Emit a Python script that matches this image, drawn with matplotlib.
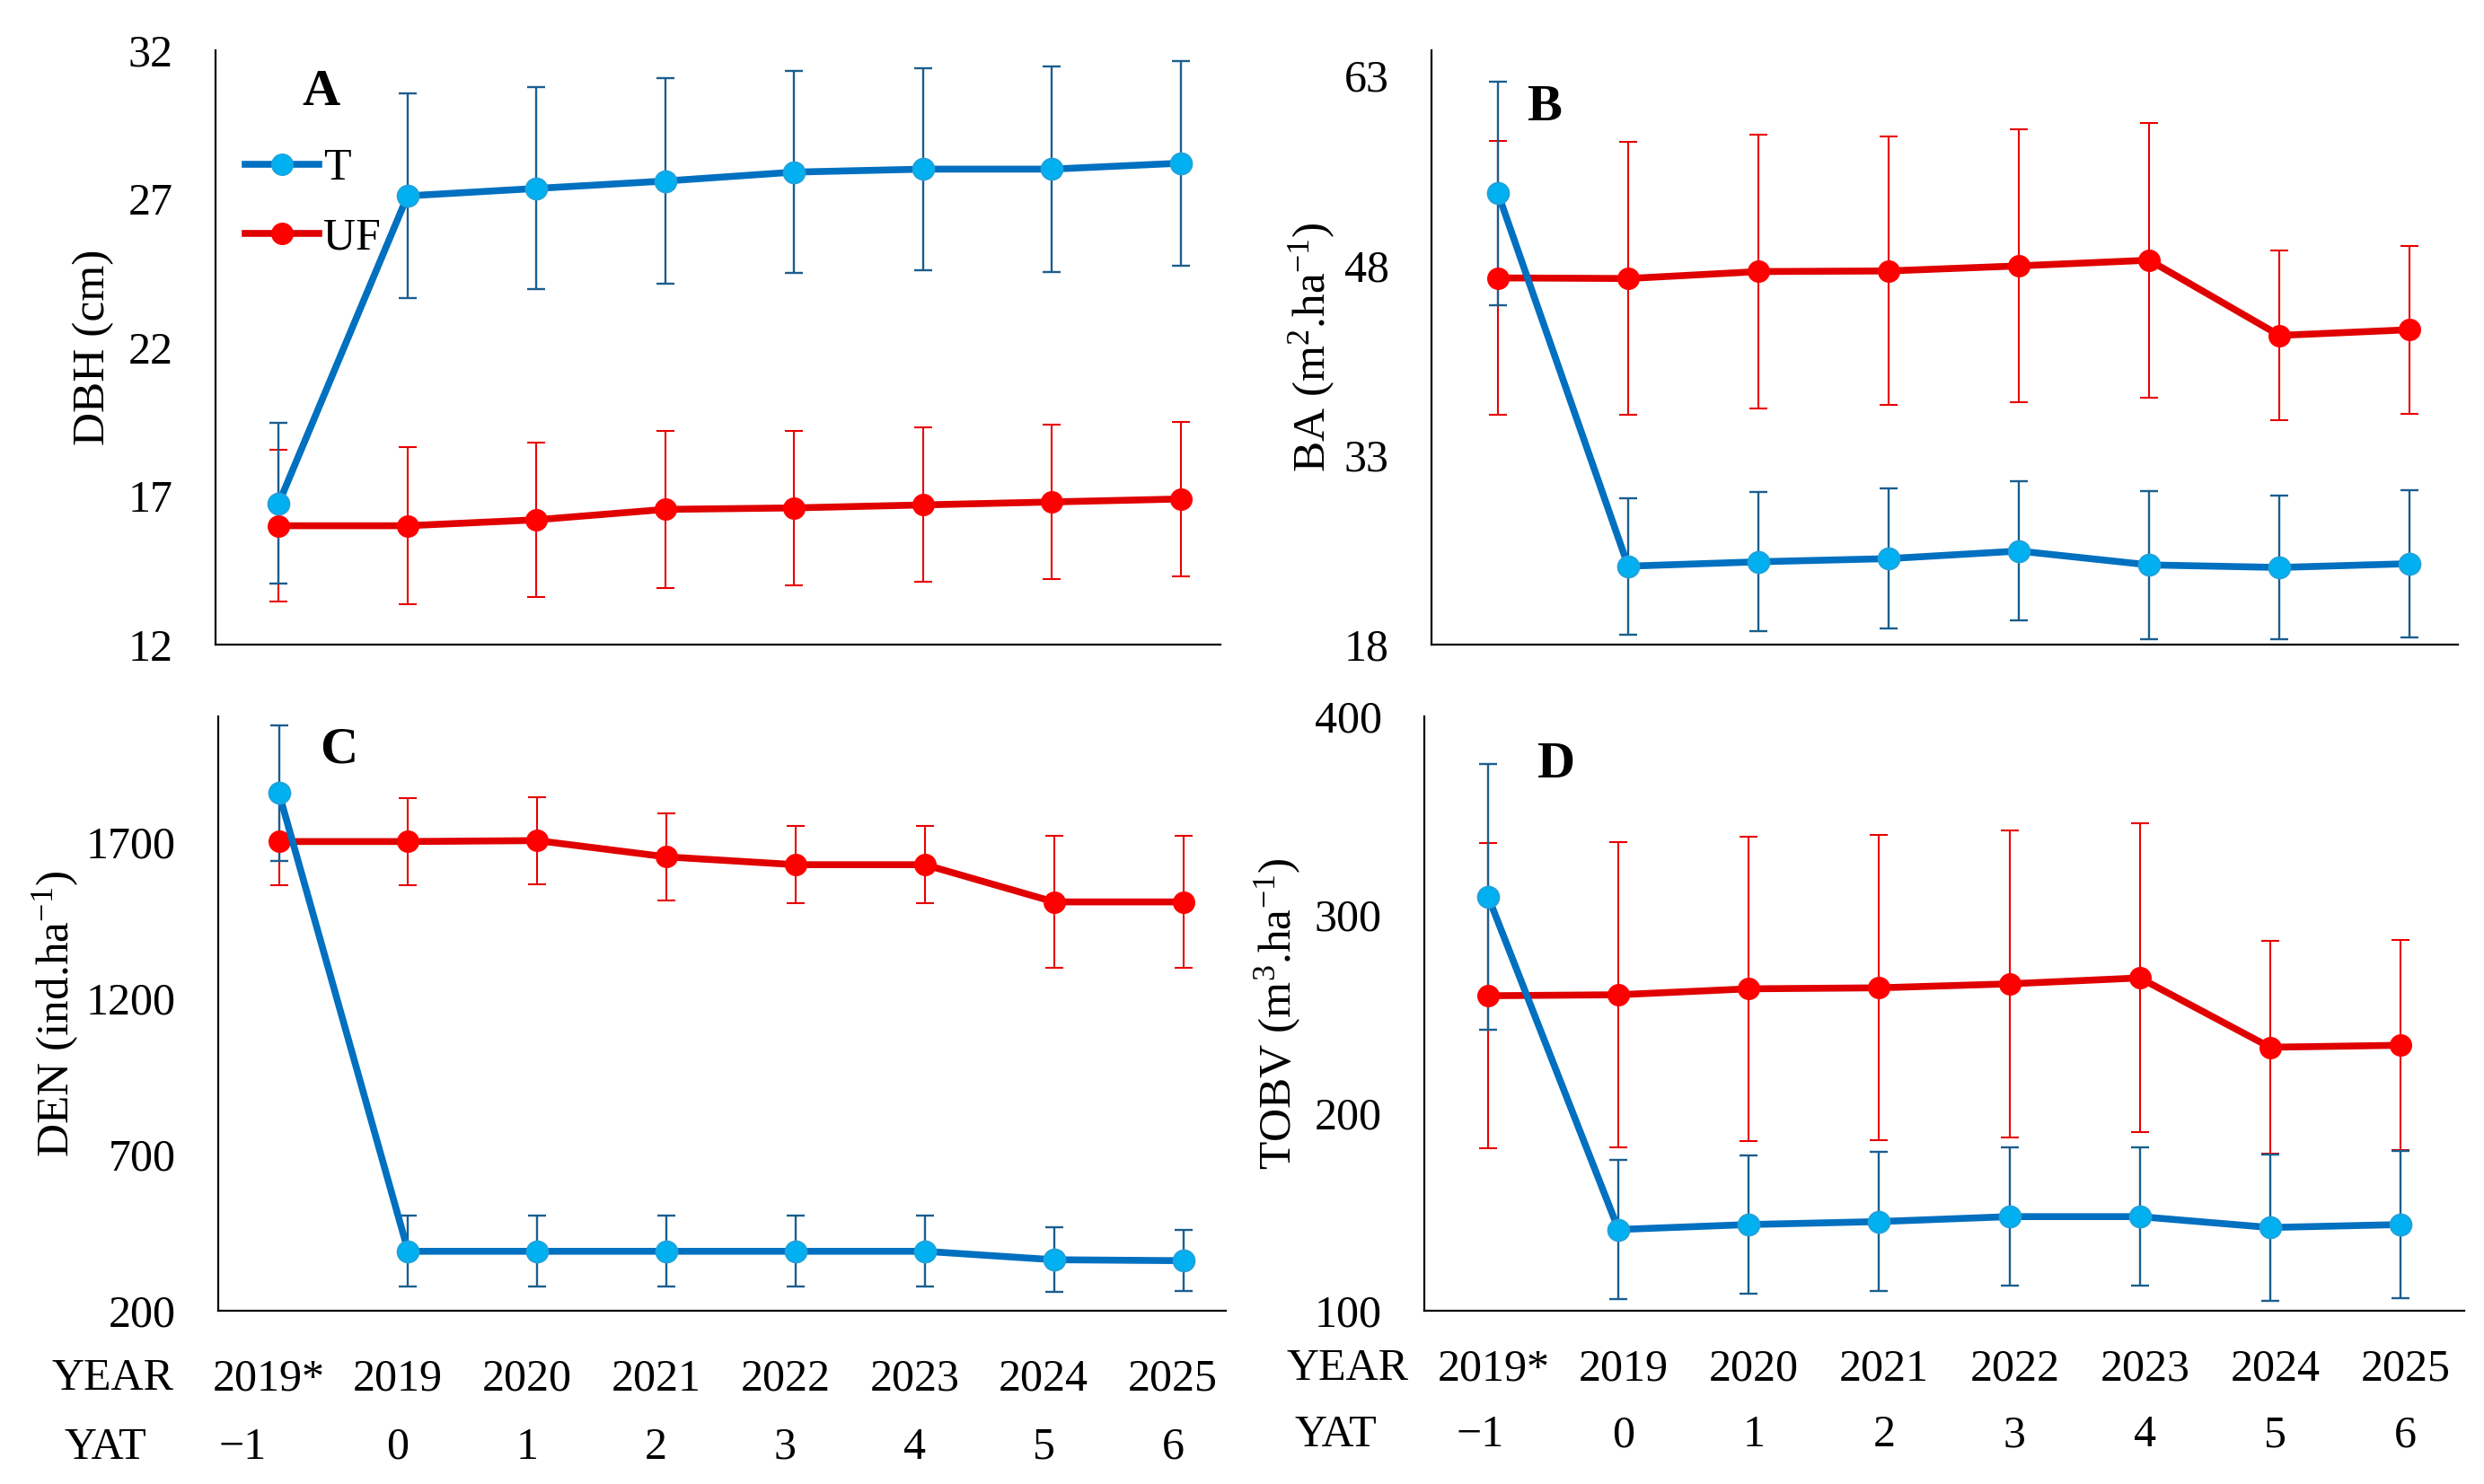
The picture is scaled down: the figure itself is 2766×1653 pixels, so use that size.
import matplotlib
matplotlib.use("Agg")
import matplotlib.pyplot as plt
from matplotlib.lines import Line2D

plt.rcParams['font.family'] = ['Liberation Serif', 'DejaVu Serif']
plt.rcParams['mathtext.fontset'] = 'custom'
plt.rcParams['mathtext.rm'] = 'Liberation Serif'
plt.rcParams['mathtext.it'] = 'Liberation Serif:italic'

# categories
years = ["2019*", "2019", "2020", "2021", "2022", "2023", "2024", "2025"]
yat = ["\u22121", "0", "1", "2", "3", "4", "5", "6"]

# A - DBH (cm)
dbh_t = [16.75, 27.1, 27.35, 27.6, 27.9, 28.0, 28.0, 28.2]
dbh_t_err = [2.7, 3.45, 3.4, 3.45, 3.4, 3.4, 3.45, 3.45]
dbh_uf = [16.0, 16.0, 16.2, 16.55, 16.6, 16.7, 16.8, 16.9]
dbh_uf_err = [2.55, 2.65, 2.6, 2.65, 2.6, 2.6, 2.6, 2.6]

# B - BA (m2/ha)
ba_t = [53.7, 24.2, 24.55, 24.8, 25.4, 24.3, 24.1, 24.4]
ba_t_err = [8.85, 5.4, 5.5, 5.55, 5.5, 5.85, 5.7, 5.8]
ba_uf = [47.0, 46.95, 47.5, 47.55, 47.95, 48.4, 42.45, 42.9]
ba_uf_err = [10.8, 10.8, 10.85, 10.6, 10.8, 10.85, 6.7, 6.65]

# C - DEN (ind/ha)
den_t = [1855, 390, 390, 390, 390, 390, 363, 360]
den_t_err = [217, 113, 113, 113, 113, 113, 103, 98]
den_uf = [1700, 1700, 1703, 1651, 1626, 1626, 1507, 1507]
den_uf_err = [140, 140, 140, 140, 123, 123, 212, 212]

# D - TOBV (m3/ha)
tobv_t = [309, 141, 143.5, 145, 147.5, 147.5, 142, 143.5]
tobv_t_err = [67, 35, 35, 35, 35, 35, 37, 37]
tobv_uf = [259, 259.5, 262.5, 263, 265, 268, 233, 234]
tobv_uf_err = [77, 77, 77, 77, 77.5, 78, 53.5, 53]

T_LINE = "#0070C0"
T_MARK = "#00B0F0"
T_ERR = "#1A5E8E"
UF_LINE = "#E00000"
UF_MARK = "#FF0000"
UF_ERR = "#E80000"
FS = 36

W, H = 2766, 1653
fig = plt.figure(figsize=(W / 100, H / 100), dpi=100)


def make_axes(left, right, top, bottom):
    return fig.add_axes([left / W, 1 - bottom / H, (right - left) / W, (bottom - top) / H])


def draw(ax, t, t_err, uf, uf_err, ylim, step, xlim, ylabel, letter, letter_pos, label_x):
    x = list(range(len(years)))
    ax.errorbar(x, uf, yerr=uf_err, fmt="none", ecolor=UF_ERR, elinewidth=1.5,
                capsize=7, capthick=1.5, zorder=2)
    ax.errorbar(x, t, yerr=t_err, fmt="none", ecolor=T_ERR, elinewidth=1.7,
                capsize=7, capthick=1.7, zorder=2)
    ax.plot(x, uf, color=UF_LINE, lw=5.5, marker="o", ms=17, mfc=UF_MARK,
            mec=UF_MARK, zorder=3)
    ax.plot(x, t, color=T_LINE, lw=5.5, marker="o", ms=17, mfc=T_MARK,
            mec="#1FA3DC", mew=1.5, zorder=4)
    ax.set_xlim(*xlim)
    ax.set_ylim(*ylim)
    ticks = list(range(ylim[0], ylim[1] + 1, step))
    ax.set_yticks(ticks)
    ax.set_yticklabels([str(v) for v in ticks], fontsize=FS)
    ax.set_xticks([])
    ax.tick_params(axis="y", length=0, pad=34)
    for s in ["top", "right"]:
        ax.spines[s].set_visible(False)
    for s in ["left", "bottom"]:
        ax.spines[s].set_linewidth(1.6)
        ax.spines[s].set_color("black")
    ax.text(label_x, 0.5, ylabel, transform=ax.transAxes, rotation=90,
            ha="center", va="center", fontsize=FS + 1)
    ax.text(letter_pos[0], letter_pos[1], letter, transform=ax.transAxes,
            ha="center", va="center", fontsize=FS + 6, fontweight="bold")


def year_rows(ax, year_y, yat_y, year_lab_x, yat_lab_x, shift, first_shift):
    tr = ax.get_xaxis_transform()
    ax.text(year_lab_x, year_y, "YEAR", transform=tr, ha="center", va="center",
            fontsize=FS, clip_on=False)
    ax.text(yat_lab_x, yat_y, "YAT", transform=tr, ha="center", va="center",
            fontsize=FS, clip_on=False)
    for i, (yr, ya) in enumerate(zip(years, yat)):
        ax.text(i + shift, year_y, yr, transform=tr, ha="center", va="center",
                fontsize=FS, clip_on=False)
        off = first_shift if i == 0 else shift
        ax.text(i + off, yat_y, ya, transform=tr, ha="center", va="center",
                fontsize=FS, clip_on=False)


axA = make_axes(240, 1359, 56, 718)
draw(axA, dbh_t, dbh_t_err, dbh_uf, dbh_uf_err, (12, 32), 5, (-0.49, 7.31),
     "DBH (cm)", "A", (0.105, 0.929), -0.1215)
handles = [
    Line2D([], [], color=T_LINE, lw=5.5, marker="o", ms=17, mfc=T_MARK, mec="#1FA3DC"),
    Line2D([], [], color=UF_LINE, lw=5.5, marker="o", ms=17, mfc=UF_MARK, mec=UF_MARK),
]
axA.legend(handles, ["T", "UF"], loc="upper left", bbox_to_anchor=(0.0295, 0.836),
           frameon=False, fontsize=FS, borderpad=0, borderaxespad=0,
           handlelength=1.64, handletextpad=0.1, labelspacing=0.62, numpoints=1)

axB = make_axes(1594, 2737, 56, 718)
draw(axB, ba_t, ba_t_err, ba_uf, ba_uf_err, (18, 65), 15, (-0.51, 7.37),
     r"BA (m$^{2}$.ha$^{-1}$)", "B", (0.110, 0.903), -0.116)

axC = make_axes(243, 1365, 798, 1460)
draw(axC, den_t, den_t_err, den_uf, den_uf_err, (200, 2100), 500, (-0.47, 7.33),
     r"DEN (ind.ha$^{-1}$)", "C", (0.120, 0.944), -0.161)
year_rows(axC, -0.115, -0.23, -1.29, -1.34, -0.08, -0.28)

axD = make_axes(1586, 2744, 798, 1460)
draw(axD, tobv_t, tobv_t_err, tobv_uf, tobv_uf_err, (100, 400), 100, (-0.49, 7.49),
     r"TOBV (m$^{3}$.ha$^{-1}$)", "D", (0.127, 0.918), -0.141)
year_rows(axD, -0.098, -0.21, -1.08, -1.17, 0.04, -0.06)

fig.savefig("out.png", dpi=100)
